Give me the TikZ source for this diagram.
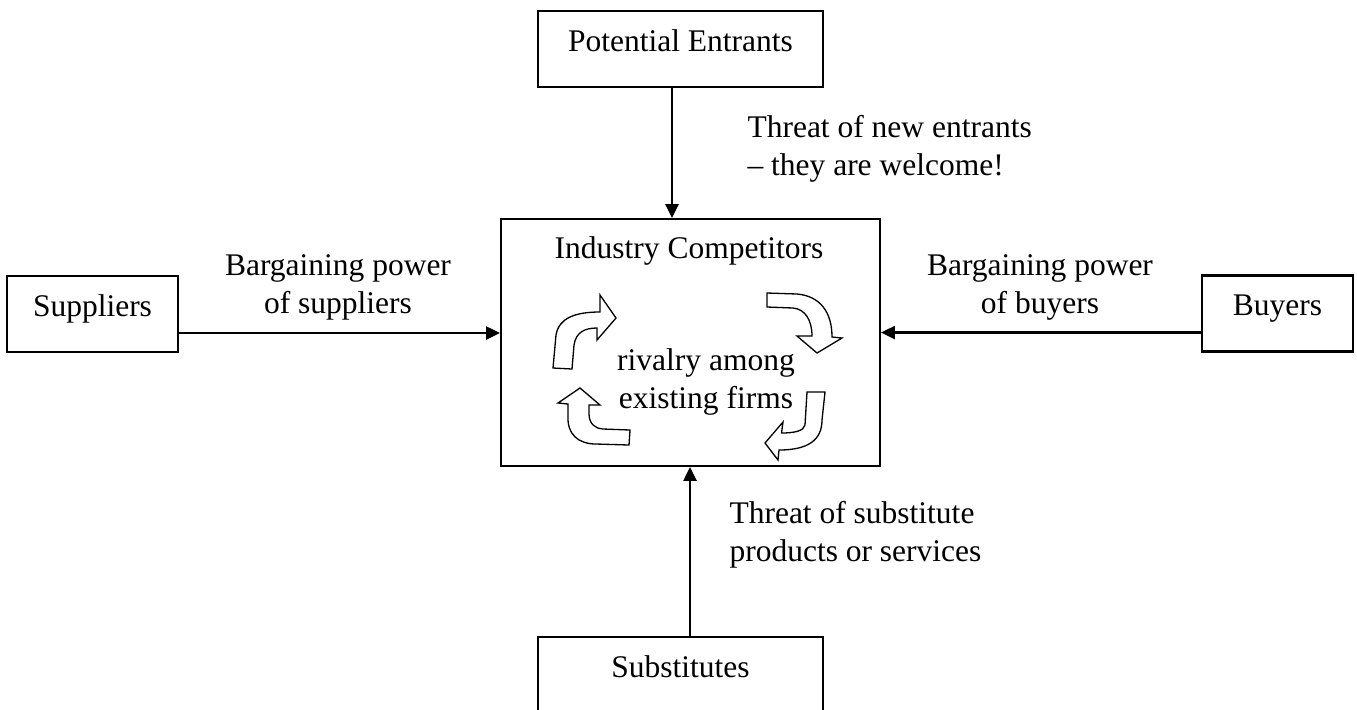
\documentclass[tikz,border=0pt]{standalone}
\usepackage{fontspec}
\setmainfont{Liberation Serif}
\usetikzlibrary{arrows.meta,calc}
\tikzset{
 box/.style={draw,line width=0.8pt,inner sep=0pt,outer sep=0pt,
             text height=15.24pt,text depth=13.72pt},
 arrow/.style={-{Triangle[length=5.3pt,width=5pt]},line width=0.8pt},
 lbl/.style={inner sep=0pt,anchor=base},
 turn/.style={draw,fill=white,line width=0.5pt,line join=miter}
}

\begin{document}
\begin{tikzpicture}[x=0.381pt,y=-0.381pt,font=\fontsize{12}{14.4}\selectfont]
\useasboundingbox (0,0) rectangle (1357,709);
% boxes
\node[box,minimum width=108.6pt] (entrants) at (680.5,49) {Potential Entrants};
\node[box,minimum width=65.15pt] (suppliers) at (92.5,314) {Suppliers};
\node[box,minimum width=57.53pt] (buyers) at (1277.5,313.5) {Buyers};
\node[box,minimum width=108.6pt] (substitutes) at (680.5,675) {Substitutes};
\node[draw,line width=0.8pt,inner sep=0pt,minimum width=144.4pt,minimum height=94.1pt] (industry) at (690.5,342.5) {};
% texts (base = last line)
\node[lbl] (title) at (689,258) {Industry Competitors};
\node[lbl,align=center] (rivalry) at (706,408) {rivalry among\\existing firms};
\node[lbl,anchor=base west,align=left] (newent) at (747,175) {Threat of new entrants\\– they are welcome!};
\node[lbl,align=center] (powsup) at (338,313) {Bargaining power\\of suppliers};
\node[lbl,align=center] (powbuy) at (1040,313) {Bargaining power\\of buyers};
\node[lbl,anchor=base west,align=left] (subthr) at (729,561) {Threat of substitute\\products or services};
% forces
\coordinate (entx) at ($(entrants.south)+(-8.5,0)$);
\coordinate (supy) at ($(suppliers.east)+(0,19)$);
\coordinate (buyy) at ($(buyers.west)+(0,19)$);
\coordinate (subx) at ($(substitutes.north)+(9.5,0)$);
\draw[arrow] (entx) -- (entx |- industry.north);
\draw[arrow] (supy) -- (supy -| industry.west);
\draw[arrow] (buyy) -- (buyy -| industry.east);
\draw[arrow] (subx) -- (subx |- industry.south);
% rivalry cycle
\draw[turn] (553,368) -- (556,335) .. controls (559,318) and (575,312) .. (600,312)
  -- (600,295) -- (616,318) -- (597,340) -- (597,328)
  .. controls (585,328) and (576,332) .. (574,345) -- (572,369) -- cycle;
\draw[turn] (767,293) -- (797,294) .. controls (820,296) and (832,312) .. (832,337)
  -- (842,338) -- (817,353) -- (797,336) -- (812,336)
  .. controls (812,320) and (805,309) .. (793,308) -- (767,307) -- cycle;
\draw[turn] (807,392) -- (805,425) .. controls (804,431) and (794,433) .. (781.5,433)
  -- (783,422) -- (765,443) -- (778,460) -- (779,450)
  .. controls (808,450) and (822,440) .. (822,420) -- (825,392) -- cycle;
\draw[turn] (630,430) -- (603,429) .. controls (596,429) and (589,424) .. (589,414)
  -- (589,405) -- (600,405) -- (580,388) -- (558,403) -- (568,404) -- (568,416)
  .. controls (567,434) and (578,444) .. (596,444) -- (629,445) -- cycle;
\end{tikzpicture}
\end{document}
